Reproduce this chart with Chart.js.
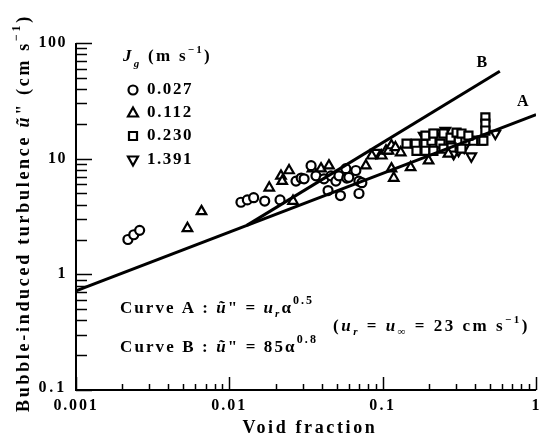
<!DOCTYPE html>
<html>
<head>
<meta charset="utf-8">
<script src="https://cdn.jsdelivr.net/npm/chart.js"></script>
<style>
html, body { margin: 0; padding: 0; background: #fff; }
#wrap { width: 544px; height: 440px; }
</style>
</head>
<body>
<div id="wrap"><canvas id="chart" width="544" height="440"></canvas></div>
<script>
// J_g = 0.027 m/s (circles)
const circleX = [0.00218, 0.00238, 0.0026, 0.0119, 0.0131, 0.0144, 0.0170, 0.0214,
    0.0272, 0.0294, 0.0307, 0.0341, 0.0367, 0.0414, 0.046, 0.0495, 0.0518, 0.0575,
    0.0583, 0.0601, 0.044, 0.053, 0.070, 0.0668, 0.0699, 0.0731];
const circleY = [2.0, 2.2, 2.4, 4.2, 4.4, 4.6, 4.3, 4.4,
    6.4, 6.8, 6.7, 8.7, 7.1, 6.7, 7.1, 6.4, 7.1, 8.2,
    6.8, 6.9, 5.3, 4.8, 5.0, 7.9, 6.4, 6.2];

// J_g = 0.112 m/s (triangles)
const triX = [0.00533, 0.00658, 0.0182, 0.026, 0.0217, 0.0245, 0.0221, 0.0348, 0.0396,
    0.0446, 0.0776, 0.0849, 0.0986, 0.105, 0.109, 0.114, 0.121, 0.131, 0.118, 0.114,
    0.152, 0.199, 0.268];
const triY = [2.5, 3.5, 5.6, 4.3, 7.1, 7.9, 6.4, 8.2, 8.2,
    8.7, 8.7, 10.6, 10.6, 11.7, 11.7, 13.0, 12.5, 11.3, 6.8, 8.2,
    8.4, 9.6, 11.0];

// J_g = 0.230 m/s (squares)
const squareX = [0.143, 0.164, 0.190, 0.208, 0.238, 0.277, 0.312, 0.346, 0.390, 0.440,
    0.166, 0.190, 0.214, 0.249, 0.281, 0.326,
    0.190, 0.214, 0.249, 0.277, 0.303, 0.326, 0.362,
    0.467, 0.467, 0.467, 0.453];
const squareY = [13.5, 13.5, 13.5, 14.3, 13.5, 13.5, 14.3, 14.3, 14.3, 14.3,
    11.7, 11.7, 11.7, 12.2, 12.5, 12.2,
    15.8, 16.5, 16.5, 15.2, 16.8, 16.5, 15.8,
    22.7, 20.1, 17.5, 14.3];

// J_g = 1.391 m/s (inverted triangles)
const invX = [0.09, 0.185, 0.224, 0.256, 0.29, 0.312, 0.34, 0.378, 0.542];
const invY = [11.3, 15.8, 16.8, 17.5, 11.0, 11.7, 12.5, 10.5, 16.5];

// correlation curves (end points)
const curveAX = [0.001, 1];
const curveAY = [0.72, 24];
const curveBX = [0.013, 0.58];
const curveBY = [2.65, 57];

const xTickValues = [0.001, 0.01, 0.1, 1];
const xTickLabels = ['0.001', '0.01', '0.1', '1'];
const yTickValues = [0.1, 1, 10, 100];
const yTickLabels = ['0.1', '1', '10', '100'];
const legendLabels = ['0.027', '0.112', '0.230', '1.391'];

const FONT = '"Liberation Serif", "DejaVu Serif", serif';

function pts(xs, ys) {
    return xs.map((x, i) => ({ x: x, y: ys[i] }));
}

function fontOf(p) {
    return (p[2] === 'i' ? 'italic ' : '') + 'bold ' + p[1] + 'px ' + FONT;
}

// draw a run of text pieces, optionally stretched to a target width
function drawRuns(ctx, x, y, parts, target, align) {
    let w0 = 0, n = 0;
    ctx.letterSpacing = '0px';
    parts.forEach(p => {
        ctx.font = fontOf(p);
        p.w = ctx.measureText(p[0]).width;
        w0 += p.w;
        n += p[0].length;
    });
    const extra = target ? (target - w0) / n : 0;
    const total = w0 + extra * n;
    let cx = align === 'center' ? x - total / 2 : (align === 'right' ? x - total : x);
    ctx.textAlign = 'left';
    ctx.textBaseline = 'middle';
    parts.forEach(p => {
        ctx.font = fontOf(p);
        ctx.letterSpacing = extra + 'px';
        ctx.fillText(p[0], cx, y + (p[3] || 0));
        cx += p.w + extra * p[0].length;
    });
    ctx.letterSpacing = '0px';
}

function marker(ctx, kind, x, y) {
    ctx.beginPath();
    if (kind === 'circle') {
        ctx.arc(x, y, 4.5, 0, Math.PI * 2);
    } else if (kind === 'tri') {
        ctx.moveTo(x, y - 5.5); ctx.lineTo(x + 5, y + 3.5); ctx.lineTo(x - 5, y + 3.5); ctx.closePath();
    } else if (kind === 'rect') {
        ctx.rect(x - 4, y - 4, 8, 8);
    } else {
        ctx.moveTo(x, y + 5.5); ctx.lineTo(x + 5, y - 3.5); ctx.lineTo(x - 5, y - 3.5); ctx.closePath();
    }
    ctx.fillStyle = '#fff';
    ctx.fill();
    ctx.lineWidth = 2.2;
    ctx.strokeStyle = '#000';
    ctx.stroke();
}

const decor = {
    id: 'decor',
    afterDraw(chart) {
        const ctx = chart.ctx;
        const xs = chart.scales.x, ys = chart.scales.y;
        const area = chart.chartArea;
        ctx.save();
        ctx.strokeStyle = '#000';
        ctx.fillStyle = '#000';

        // axis lines
        ctx.lineWidth = 2;
        ctx.beginPath();
        ctx.moveTo(area.left, area.top);
        ctx.lineTo(area.left, area.bottom);
        ctx.lineTo(area.right, area.bottom);
        ctx.stroke();

        // inward tick marks
        ctx.lineWidth = 1.5;
        for (let d = 0.001; d < 1.5; d *= 10) {
            for (let m = 1; m <= 9; m++) {
                const v = m * d;
                if (v > 1.0001) break;
                const px = Math.round(xs.getPixelForValue(v)) + 0.5;
                const len = m === 1 ? 13 : 6;
                ctx.beginPath();
                ctx.moveTo(px, area.bottom);
                ctx.lineTo(px, area.bottom - len);
                ctx.stroke();
            }
        }
        for (let d = 0.1; d < 150; d *= 10) {
            for (let m = 1; m <= 9; m++) {
                const v = m * d;
                if (v > 100.01) break;
                const py = Math.round(ys.getPixelForValue(v)) + 0.5;
                const len = m === 1 ? 16 : 11;
                ctx.beginPath();
                ctx.moveTo(area.left, py);
                ctx.lineTo(area.left + len, py);
                ctx.stroke();
            }
        }

        // tick labels
        xTickValues.forEach((v, i) => {
            drawRuns(ctx, xs.getPixelForValue(v), 406, [[xTickLabels[i], 16]], xTickLabels[i].length * 9, 'center');
        });
        yTickValues.forEach((v, i) => {
            drawRuns(ctx, 67, ys.getPixelForValue(v) - (i === 0 ? 2 : 0), [[yTickLabels[i], 16]], yTickLabels[i].length * 9.5, 'right');
        });

        // axis titles
        drawRuns(ctx, 310, 428, [['Void fraction', 18]], 135, 'center');
        ctx.save();
        ctx.translate(24, 213);
        ctx.rotate(-Math.PI / 2);
        drawRuns(ctx, 0, 0, [
            ['Bubble-induced turbulence ', 18], ['\u0169', 18, 'i'], ['" (cm s', 18],
            ['\u22121', 12, '', -7], [')', 18]
        ], 398, 'center');
        ctx.restore();

        // legend
        drawRuns(ctx, 123, 57, [
            ['J', 17, 'i'], ['g', 11, 'i', 7], [' (m s', 17], ['\u22121', 11, '', -7], [')', 17]
        ], 89, 'left');
        const kinds = ['circle', 'tri', 'rect', 'inv'];
        const ly = [90, 113, 136, 160];
        kinds.forEach((k, i) => {
            marker(ctx, k, 133, ly[i]);
            ctx.fillStyle = '#000';
            drawRuns(ctx, 147, ly[i], [[legendLabels[i], 17]], 46, 'left');
        });

        // curve labels and equations
        ctx.fillStyle = '#000';
        drawRuns(ctx, 482, 63, [['B', 16]], 11, 'center');
        drawRuns(ctx, 523, 102, [['A', 16]], 12, 'center');
        drawRuns(ctx, 120, 309, [
            ['Curve A : ', 17], ['\u0169', 17, 'i'], ['" = ', 17], ['u', 17, 'i'], ['r', 11, 'i', 5],
            ['\u03b1', 17], ['0.5', 12, '', -8]
        ], 194, 'left');
        drawRuns(ctx, 120, 348, [
            ['Curve B : ', 17], ['\u0169', 17, 'i'], ['" = 85', 17], ['\u03b1', 17], ['0.8', 12, '', -8]
        ], 198, 'left');
        drawRuns(ctx, 333, 327, [
            ['(', 17], ['u', 17, 'i'], ['r', 11, 'i', 5], [' = ', 17], ['u', 17, 'i'], ['\u221e', 11, '', 5],
            [' = 23 cm s', 17], ['\u22121', 11, '', -7], [')', 17]
        ], 197, 'left');

        ctx.restore();
    }
};

const markerBase = {
    borderColor: '#000',
    backgroundColor: '#fff',
    borderWidth: 2.2
};

new Chart(document.getElementById('chart'), {
    type: 'scatter',
    data: {
        datasets: [
            { data: pts(curveAX, curveAY), showLine: true, borderColor: '#000', borderWidth: 3, pointRadius: 0 },
            { data: pts(curveBX, curveBY), showLine: true, borderColor: '#000', borderWidth: 3, pointRadius: 0 },
            Object.assign({ data: pts(circleX, circleY), pointStyle: 'circle', pointRadius: 4.5 }, markerBase),
            Object.assign({ data: pts(triX, triY), pointStyle: 'triangle', pointRadius: 5.5 }, markerBase),
            Object.assign({ data: pts(squareX, squareY), pointStyle: 'rect', pointRadius: 5.7 }, markerBase),
            Object.assign({ data: pts(invX, invY), pointStyle: 'triangle', rotation: 180, pointRadius: 5.5 }, markerBase)
        ]
    },
    options: {
        responsive: false,
        animation: false,
        layout: { padding: { top: 43, right: 6, left: 0, bottom: 0 } },
        plugins: { legend: { display: false }, tooltip: { enabled: false } },
        scales: {
            x: {
                type: 'logarithmic', min: 0.001, max: 1,
                grid: { display: false }, border: { display: false },
                ticks: { display: false },
                afterFit: s => { s.height = 50; }
            },
            y: {
                type: 'logarithmic', min: 0.1, max: 100,
                grid: { display: false }, border: { display: false },
                ticks: { display: false },
                afterFit: s => { s.width = 76; }
            }
        }
    },
    plugins: [decor]
});
</script>
</body>
</html>
